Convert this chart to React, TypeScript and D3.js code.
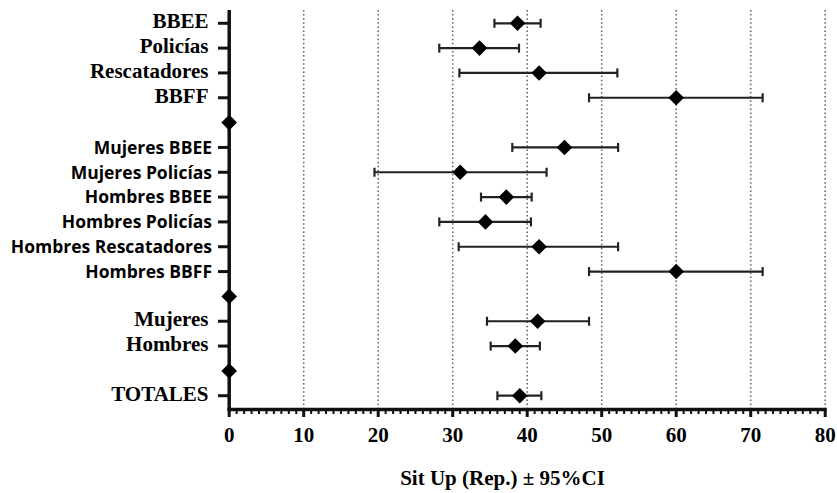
import React from "react";
import * as d3 from "d3";

const categories = [
  "BBEE", "Policías", "Rescatadores", "BBFF", "",
  "Mujeres BBEE", "Mujeres Policías", "Hombres BBEE", "Hombres Policías",
  "Hombres Rescatadores", "Hombres BBFF", "",
  "Mujeres", "Hombres", "", "TOTALES",
];
const means = [38.7, 33.6, 41.6, 60.0, 0, 45.0, 31.0, 37.2, 34.4, 41.6, 60.0, 0, 41.4, 38.4, 0, 39.0];
const lower = [35.6, 28.2, 30.9, 48.3, 0, 38.0, 19.5, 33.8, 28.2, 30.8, 48.3, 0, 34.6, 35.1, 0, 36.0];
const upper = [41.8, 38.9, 52.1, 71.6, 0, 52.2, 42.6, 40.6, 40.5, 52.2, 71.6, 0, 48.3, 41.7, 0, 41.9];
const xTicks = [0, 10, 20, 30, 40, 50, 60, 70, 80];
const xTitle = "Sit Up (Rep.) ± 95%CI";

const sansRows = new Set([5, 6, 7, 8, 9, 10]);
const SERIF = "'Liberation Serif', serif";
const SANS = "'Open Sans', sans-serif";

export default function App() {
  const W = 837, H = 493;
  const x = d3.scaleLinear().domain([0, 80]).range([229.2, 825.2]);
  const idx = categories.map((_, i) => i);
  const y = d3.scalePoint<number>().domain(idx).range([10, 409]).padding(0.535);
  const axisY = 409.5;
  const minor = d3.range(0, 81, 1).filter((v) => v % 10 !== 0);
  const dk = "#111";

  return (
    <svg width={W} height={H} style={{ position: "absolute", left: 0, top: 0, background: "#fff" }}>
      {xTicks.filter((t) => t > 0).map((t) => (
        <line key={"g" + t} x1={x(t)} x2={x(t)} y1={10} y2={axisY}
          stroke="#666" strokeWidth={1.6} strokeDasharray="1.5 2.6" />
      ))}
      {idx.map((i) => {
        if (upper[i] === lower[i]) return null;
        const yy = y(i)!;
        return (
          <g key={"e" + i} stroke="#222" strokeWidth={2.2}>
            <line x1={x(lower[i])} x2={x(upper[i])} y1={yy} y2={yy} />
            <line x1={x(lower[i])} x2={x(lower[i])} y1={yy - 4.5} y2={yy + 4.5} />
            <line x1={x(upper[i])} x2={x(upper[i])} y1={yy - 4.5} y2={yy + 4.5} />
          </g>
        );
      })}
      <line x1={x(0)} x2={x(0)} y1={10} y2={axisY + 1.5} stroke={dk} strokeWidth={3.5} />
      {idx.map((i) =>
        categories[i] ? (
          <line key={"yt" + i} x1={218} x2={x(0)} y1={y(i)!} y2={y(i)!} stroke={dk} strokeWidth={3} />
        ) : null
      )}
      {idx.map((i) => {
        if (!categories[i]) return null;
        const sans = sansRows.has(i);
        return (
          <text key={"yl" + i} x={sans ? 212 : 208.5} y={y(i)! + (sans ? 6.3 : 5)}
            textAnchor="end" fontFamily={sans ? SANS : SERIF}
            fontWeight="bold" fontSize={sans ? 17.5 : 21} fill="#000">
            {categories[i]}
          </text>
        );
      })}
      <line x1={x(0) - 1.7} x2={x(80) + 1.5} y1={axisY} y2={axisY} stroke={dk} strokeWidth={3.5} />
      {minor.map((t) => (
        <line key={"m" + t} x1={x(t)} x2={x(t)} y1={axisY} y2={axisY + 4.5} stroke={dk} strokeWidth={2} />
      ))}
      {xTicks.map((t) => (
        <line key={"t" + t} x1={x(t)} x2={x(t)} y1={axisY} y2={axisY + 7.5} stroke={dk} strokeWidth={3} />
      ))}
      {xTicks.map((t) => (
        <text key={"tl" + t} x={x(t)} y={442} textAnchor="middle" fontFamily={SERIF}
          fontWeight="bold" fontSize={21} fill="#000">{t}</text>
      ))}
      <text x={502.5} y={485} textAnchor="middle" fontFamily={SERIF} fontWeight="bold" fontSize={21} fill="#000">
        {xTitle}
      </text>
      {idx.map((i) => {
        const cx = x(means[i]), cy = y(i)!;
        const r = 7.8;
        return (
          <path key={"d" + i} d={`M${cx},${cy - r}L${cx + r},${cy}L${cx},${cy + r}L${cx - r},${cy}Z`} fill="#000" />
        );
      })}
    </svg>
  );
}
